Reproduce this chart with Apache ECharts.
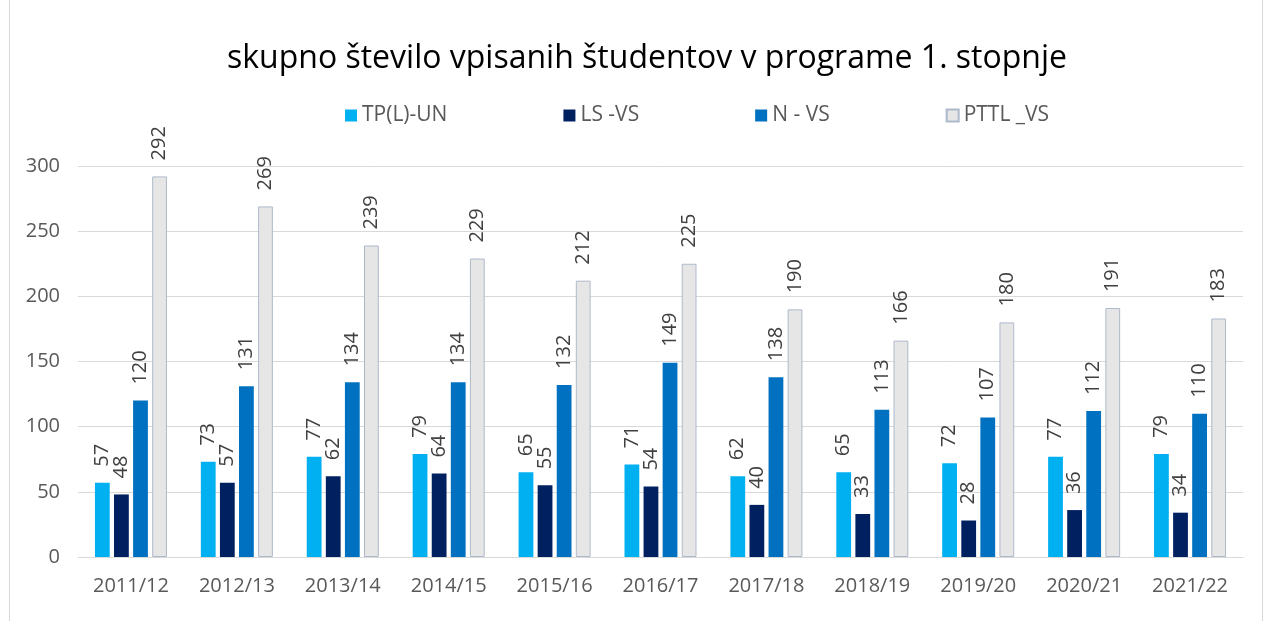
<!DOCTYPE html>
<html>
<head>
<meta charset="utf-8">
<script src="https://cdn.jsdelivr.net/npm/echarts@6/dist/echarts.min.js"></script>
<style>
  html, body { margin: 0; padding: 0; background: #fff; overflow: hidden; }
  #chart { position: absolute; left: 0; top: 0; width: 1265px; height: 621px; }
  #frame { position: absolute; left: 9px; top: -1px; width: 1252px; height: 640px; border: 1px solid #d9d9d9; pointer-events: none; }
</style>
</head>
<body>
<div id="chart"></div>
<div id="frame"></div>
<script>
const years = ['2011/12', '2012/13', '2013/14', '2014/15', '2015/16', '2016/17', '2017/18', '2018/19', '2019/20', '2020/21', '2021/22'];
const tplUn = [57, 73, 77, 79, 65, 71, 62, 65, 72, 77, 79];
const lsVs = [48, 57, 62, 64, 55, 54, 40, 33, 28, 36, 34];
const nVs = [120, 131, 134, 134, 132, 149, 138, 113, 107, 112, 110];
const pttlVs = [292, 269, 239, 229, 212, 225, 190, 166, 180, 191, 183];
const seriesNames = ['TP(L)-UN', 'LS -VS', 'N - VS', 'PTTL _VS'];

const chart = echarts.init(document.getElementById('chart'), null, { renderer: 'canvas' });

const font = '"Open Sans", "Noto Sans", sans-serif';
const label = {
    show: true,
    position: 'top',
    rotate: 90,
    align: 'left',
    verticalAlign: 'middle',
    distance: 16,
    color: '#404040',
    fontSize: 20,
    fontFamily: font,
};

function bar(name, data, color, border) {
    return {
        name,
        type: 'bar',
        data,
        barGap: '29%',
        barCategoryGap: '32%',
        itemStyle: border
            ? { color, borderColor: border, borderWidth: 1 }
            : { color },
        label,
    };
}

chart.setOption({
    animation: false,
    title: {
        text: 'skupno število vpisanih študentov v programe 1. stopnje',
        left: 222,
        top: 38,
        textStyle: { fontSize: 32, fontWeight: 'normal', color: '#000', fontFamily: font },
    },
    legend: {
        top: 100,
        left: 340,
        itemWidth: 12,
        itemHeight: 12,
        itemGap: 116,
        icon: 'rect',
        textStyle: { fontSize: 21, color: '#595959', fontFamily: font },
        data: seriesNames,
    },
    grid: { left: 78, right: 22, top: 166, bottom: 64 },
    xAxis: {
        type: 'category',
        data: years,
        axisLine: { lineStyle: { color: '#d9d9d9' } },
        axisTick: { show: false },
        axisLabel: { color: '#595959', fontSize: 20, fontFamily: font, margin: 19 },
    },
    yAxis: {
        type: 'value',
        min: 0,
        max: 300,
        interval: 50,
        axisLine: { show: false },
        axisTick: { show: false },
        axisLabel: { color: '#595959', fontSize: 20, fontFamily: font, margin: 18 },
        splitLine: { lineStyle: { color: '#d9d9d9' } },
    },
    series: [
        bar(seriesNames[0], tplUn, '#00b0f0'),
        bar(seriesNames[1], lsVs, '#002060'),
        bar(seriesNames[2], nVs, '#0070c0'),
        bar(seriesNames[3], pttlVs, '#e7e6e6', '#adb9ca'),
    ],
});
</script>
</body>
</html>
